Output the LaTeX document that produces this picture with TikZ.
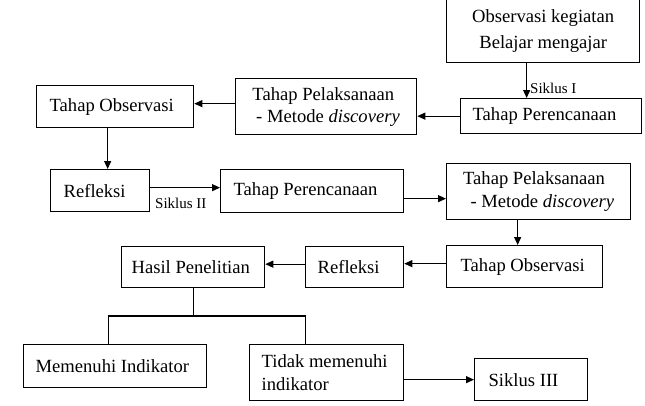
\documentclass[tikz,border=0pt]{standalone}
\usepackage{fontspec}
\setmainfont{Liberation Serif}
\usetikzlibrary{positioning, calc, arrows.meta}

\begin{document}
\begin{tikzpicture}[x=1pt, y=-1pt,
    font=\fontsize{18.6}{22}\selectfont,
    kotak/.style={draw, line width=1.3pt, anchor=north west, align=flush left, inner ysep=0pt},
    panah/.style={line width=1.1pt, -{Triangle[length=8pt,width=7pt]}},
    garis/.style={line width=1.1pt},
    siklus/.style={font=\fontsize{15}{18}\selectfont, inner sep=0pt, anchor=west}]
  \useasboundingbox (0,0) rectangle (645,405);

  \node[kotak, minimum width=193pt, inner xsep=0pt, minimum height=64pt, align=flush center] (obsawal) at (446,-2) {Observasi kegiatan\\[4pt]Belajar mengajar};
  \node[kotak, text width=157pt, inner xsep=12pt, minimum height=35pt] (rencana1) at (460,98) {Tahap Perencanaan};
  \node[kotak, minimum width=181pt, inner xsep=0pt, minimum height=56pt] (laksana1) at (235,78) {Tahap Pelaksanaan\\\hspace*{0.2em}- Metode \textit{discovery}};
  \node[kotak, text width=131pt, inner xsep=13pt, minimum height=42pt] (amat1) at (36,85) {Tahap Observasi};

  \node[kotak, text width=73pt, inner xsep=13pt, minimum height=42pt] (refleksi1) at (50,169) {Refleksi};
  \node[kotak, text width=157pt, inner xsep=13pt, minimum height=43pt] (rencana2) at (220,169) {Tahap Perencanaan};
  \node[kotak, minimum width=184pt, inner xsep=0pt, minimum height=56pt] (laksana2) at (446,163) {Tahap Pelaksanaan\\[1pt]\hspace*{0.4em}- Metode \textit{discovery}};

  \node[kotak, text width=128pt, inner xsep=14pt, minimum height=42pt] (amat2) at (446,245) {Tahap Observasi};
  \node[kotak, text width=74pt, inner xsep=12pt, minimum height=41pt] (refleksi2) at (305,246) {Refleksi};
  \node[kotak, text width=123pt, inner xsep=10pt, minimum height=41pt] (hasil) at (121,246) {Hasil Penelitian};

  \node[kotak, text width=159pt, inner xsep=12pt, minimum height=43pt] (memenuhi) at (23,344) {Memenuhi Indikator};
  \node[kotak, text width=130pt, inner xsep=12pt, minimum height=56pt] (tidak) at (249,344) {Tidak memenuhi\\[1pt]indikator};
  \node[kotak, text width=85pt, inner xsep=14pt, minimum height=42pt] (siklus3) at (474,358) {Siklus III};

  \node[siklus] (lblsiklus1) at (530,88) {Siklus I};
  \node[siklus] (lblsiklus2) at (155,203) {Siklus II};
  \coordinate (cabang) at (192,316);

  \draw[panah] ([xshift=-16.5pt]obsawal.south) -- ([xshift=-16.5pt]obsawal.south |- rencana1.north);
  \draw[panah] (rencana1.west) -- (rencana1.west -| laksana1.east);
  \draw[panah] ([yshift=3pt]laksana1.west) -- ([yshift=3pt]laksana1.west -| amat1.east);
  \draw[panah] ([xshift=-7.5pt]amat1.south) -- ([xshift=-7.5pt]amat1.south |- refleksi1.north);
  \draw[panah] ([yshift=3pt]refleksi1.east) -- ([yshift=3pt]refleksi1.east -| rencana2.west);
  \draw[panah] ([yshift=-7.5pt]rencana2.east) -- ([yshift=-7.5pt]rencana2.east -| laksana2.west);
  \draw[panah] ([xshift=-21pt]laksana2.south) -- ([xshift=-21pt]laksana2.south |- amat2.north);
  \draw[panah] ([yshift=3pt]amat2.west) -- ([yshift=3pt]amat2.west -| refleksi2.east);
  \draw[panah] ([yshift=3pt]refleksi2.west) -- ([yshift=3pt]refleksi2.west -| hasil.east);

  \draw[garis] (hasil.south) -- (hasil.south |- cabang);
  \draw[garis] ([xshift=-6.5pt]memenuhi.north) |- ([xshift=-21pt]tidak.north |- cabang) -- ([xshift=-21pt]tidak.north);
  \draw[panah] (tidak.east |- siklus3.west) -- (siklus3.west);
\end{tikzpicture}
\end{document}
